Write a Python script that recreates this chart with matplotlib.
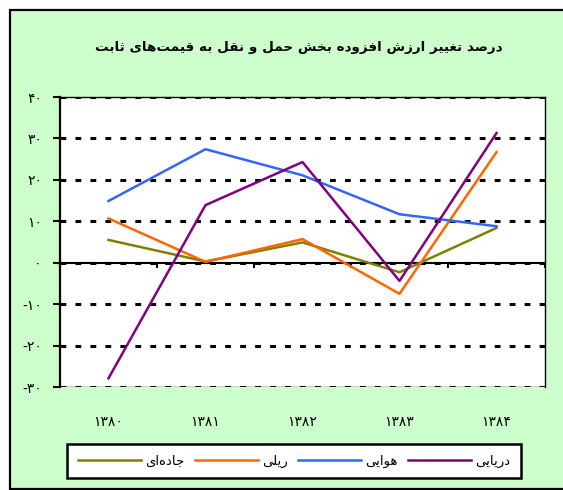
import matplotlib
matplotlib.use("Agg")
import matplotlib.pyplot as plt
from matplotlib.patches import Rectangle

# --- data ---
years = ["۱۳۸۰", "۱۳۸۱", "۱۳۸۲", "۱۳۸۳", "۱۳۸۴"]
road = [5.5, 0.3, 4.9, -2.3, 8.4]
rail = [10.7, 0.2, 5.7, -7.5, 26.7]
air = [14.9, 27.4, 21.1, 11.7, 8.8]
sea = [-27.9, 13.9, 24.3, -4.4, 31.3]
series_names = ["جاده‌ای", "ریلی", "هوایی", "دریایی"]
yticks = [-30, -20, -10, 0, 10, 20, 30, 40]
ytick_labels = ["-۳۰", "-۲۰", "-۱۰", "۰", "۱۰", "۲۰", "۳۰", "۴۰"]
title = "درصد تغییر ارزش افزوده بخش حمل و نقل به قیمت‌های ثابت"

colors = ["#808000", "#FF6600", "#3366FF", "#800080"]

# small arabic/persian shaper (matplotlib has no complex text layout)
# forms: isolated, final, initial, medial
FORMS = {
    "ا": (0xFE8D, 0xFE8E), "د": (0xFEA9, 0xFEAA), "ر": (0xFEAD, 0xFEAE),
    "ز": (0xFEAF, 0xFEB0), "و": (0xFEED, 0xFEEE),
    "ب": (0xFE8F, 0xFE90, 0xFE91, 0xFE92), "ت": (0xFE95, 0xFE96, 0xFE97, 0xFE98),
    "ث": (0xFE99, 0xFE9A, 0xFE9B, 0xFE9C), "ج": (0xFE9D, 0xFE9E, 0xFE9F, 0xFEA0),
    "ح": (0xFEA1, 0xFEA2, 0xFEA3, 0xFEA4), "خ": (0xFEA5, 0xFEA6, 0xFEA7, 0xFEA8),
    "ش": (0xFEB5, 0xFEB6, 0xFEB7, 0xFEB8), "ص": (0xFEB9, 0xFEBA, 0xFEBB, 0xFEBC),
    "غ": (0xFECD, 0xFECE, 0xFECF, 0xFED0), "ف": (0xFED1, 0xFED2, 0xFED3, 0xFED4),
    "ق": (0xFED5, 0xFED6, 0xFED7, 0xFED8), "ل": (0xFEDD, 0xFEDE, 0xFEDF, 0xFEE0),
    "م": (0xFEE1, 0xFEE2, 0xFEE3, 0xFEE4), "ن": (0xFEE5, 0xFEE6, 0xFEE7, 0xFEE8),
    "ه": (0xFEE9, 0xFEEA, 0xFEEB, 0xFEEC), "ی": (0xFEEF, 0xFEF0, 0xFEF3, 0xFEF4),
}


def shape(s):
    out = []
    for i, ch in enumerate(s):
        f = FORMS.get(ch)
        if f is None:
            if ch != "\u200c":
                out.append(ch)
            continue
        prev = s[i - 1] if i > 0 else ""
        nxt = s[i + 1] if i + 1 < len(s) else ""
        join_prev = prev in FORMS and len(FORMS[prev]) == 4
        join_next = len(f) == 4 and nxt in FORMS
        if join_prev and join_next:
            code = f[3]
        elif join_prev:
            code = f[1]
        elif join_next:
            code = f[2]
        else:
            code = f[0]
        out.append(chr(code))
    return "".join(reversed(out))


plt.rcParams["font.family"] = ["DejaVu Sans"]

fig = plt.figure(figsize=(5.63, 4.90), dpi=100)
fig.patch.set_facecolor("white")
fig.patches.append(Rectangle((9.5 / 563, 1.5 / 490), 1.05, 478.5 / 490,
                             transform=fig.transFigure, facecolor="#CCFFCC",
                             edgecolor="black", linewidth=1.6, zorder=-10))

ax = fig.add_axes([60 / 563, 103 / 490, 485 / 563, 290 / 490])
ax.set_facecolor("white")

x = list(range(len(years)))
for vals, c in zip([road, rail, air, sea], colors):
    ax.plot(x, vals, color=c, linewidth=1.8, zorder=4)

ax.set_xlim(-0.5, 4.5)
ax.set_ylim(-30, 40)
ax.set_yticks(yticks, ytick_labels, fontsize=10)
ax.yaxis.grid(True, color="black", linewidth=2.2, linestyle=(0, (1.9, 3.0)))
ax.set_axisbelow(True)

for side in ["top", "right"]:
    ax.spines[side].set_linewidth(1.0)
ax.spines["left"].set_linewidth(1.6)
ax.spines["bottom"].set_position(("data", 0))
ax.spines["bottom"].set_linewidth(1.5)
ax.spines["bottom"].set_zorder(3)
ax.set_xticks([-0.5, 0.5, 1.5, 2.5, 3.5, 4.5], [""] * 6)
ax.tick_params(axis="x", direction="out", length=3.5, width=1.5)
ax.tick_params(axis="y", direction="out", length=5, width=1.5, pad=8)
ax.axhline(-30, color="black", linewidth=1.0, zorder=2)

sec = ax.secondary_xaxis("bottom")
sec.set_xticks(x, years, fontsize=10)
sec.spines["bottom"].set_visible(False)
sec.tick_params(length=0, pad=20)

fig.text(299 / 563, 1 - 47 / 490, shape(title), ha="center", va="center",
         fontsize=9.7, fontweight="bold")

handles = ax.get_lines()[:4]
leg = fig.legend(handles, [shape(n) for n in series_names],
                 loc="center", bbox_to_anchor=(67 / 563, 1 - 480 / 490, 454 / 563, 38 / 490),
                 mode="expand", ncol=4, fontsize=9.5, handlelength=4.8,
                 frameon=True, fancybox=False, borderaxespad=0, borderpad=0.8,
                 handletextpad=0.3)
leg.get_frame().set_edgecolor("black")
leg.get_frame().set_linewidth(1.8)
leg.get_frame().set_facecolor("white")
leg.get_frame().set_alpha(1)

fig.savefig("out.png", dpi=100)
